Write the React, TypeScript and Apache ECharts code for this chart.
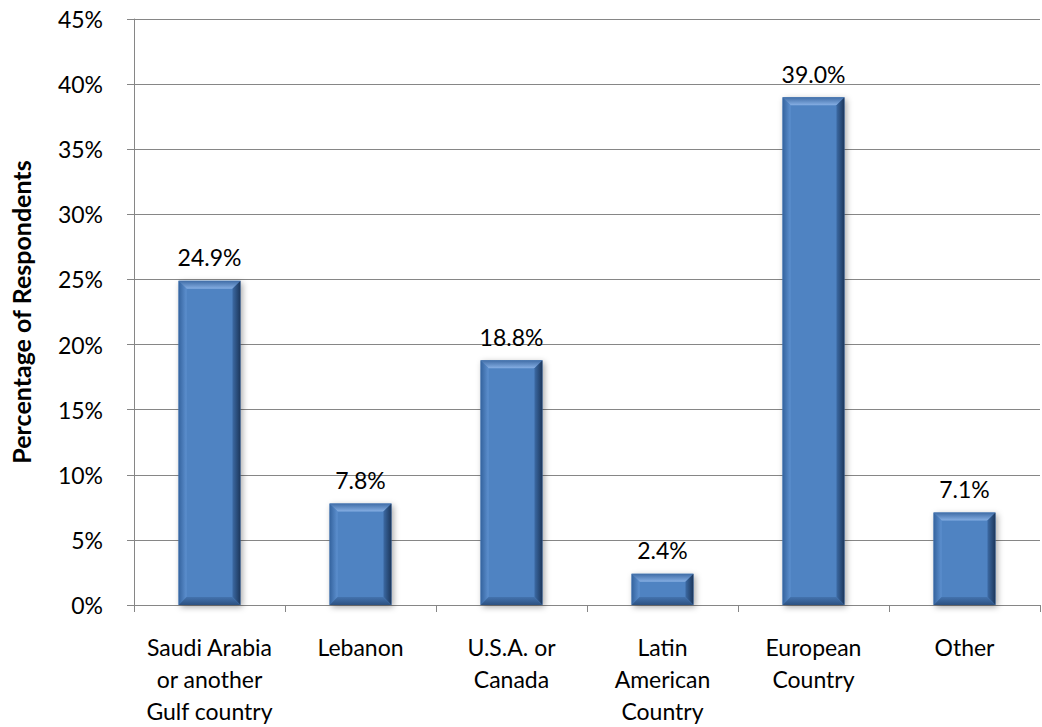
import React, { useEffect, useRef } from "react";
import * as echarts from "echarts";

const categories = [
  "Saudi Arabia\nor another\nGulf country",
  "Lebanon",
  "U.S.A. or\nCanada",
  "Latin\nAmerican\nCountry",
  "European\nCountry",
  "Other",
];
const values = [24.9, 7.8, 18.8, 2.4, 39.0, 7.1];
const yMin = 0;
const yMax = 45;
const yStep = 5;
const yTitle = "Percentage of Respondents";

const FONT = "Lato, 'Open Sans', sans-serif";
const FS = 23;
const GRID_COLOR = "#868686";

function grad(x1: number, y1: number, x2: number, y2: number, c1: string, c2: string) {
  return new echarts.graphic.LinearGradient(x1, y1, x2, y2, [
    { offset: 0, color: c1 },
    { offset: 1, color: c2 },
  ]);
}

export default function App() {
  const ref = useRef<HTMLDivElement>(null);
  useEffect(() => {
    if (!ref.current) return;
    const chart = echarts.init(ref.current, null, { renderer: "svg" });
    const renderItem = (params: any, api: any) => {
      const idx = api.value(0);
      const v = api.value(1);
      const top = api.coord([idx, v]);
      const base = api.coord([idx, 0]);
      const bw = api.size([1, 0])[0] * 0.41;
      const l = top[0] - bw / 2;
      const r = l + bw;
      const t = top[1];
      const b = base[1];
      const h = b - t;
      const e = Math.min(8, h / 2);
      return {
        type: "group",
        children: [
          {
            type: "rect",
            shape: { x: l, y: t, width: bw, height: h },
            style: {
              fill: "#4f83c2",
              shadowBlur: 6,
              shadowColor: "rgba(0,0,0,0.35)",
              shadowOffsetX: 2,
              shadowOffsetY: 2,
            },
          },
          {
            type: "polygon",
            shape: { points: [[l, t], [r, t], [r - e, t + e], [l + e, t + e]] },
            style: { fill: grad(0, 0, 0, 1, "#3f6ca6", "#85aee3") },
          },
          {
            type: "polygon",
            shape: { points: [[l, t], [l + e, t + e], [l + e, b - e], [l, b]] },
            style: { fill: grad(0, 0, 1, 0, "#34639e", "#5d90cf") },
          },
          {
            type: "polygon",
            shape: { points: [[r, t], [r, b], [r - e, b - e], [r - e, t + e]] },
            style: { fill: grad(0, 0, 1, 0, "#3c6aa4", "#1c365a") },
          },
          {
            type: "polygon",
            shape: { points: [[l, b], [r, b], [r - e, b - e], [l + e, b - e]] },
            style: { fill: grad(0, 0, 0, 1, "#4473ae", "#2c5181") },
          },
          {
            type: "text",
            x: top[0],
            y: t - 12,
            style: {
              text: v.toFixed(1) + "%",
              align: "center",
              verticalAlign: "bottom",
              fill: "#000",
              fontSize: FS,
              fontFamily: FONT,
            },
          },
        ],
      };
    };
    chart.setOption({
      animation: false,
      backgroundColor: "#fff",
      grid: { left: 125, right: 2, top: 19, bottom: 115, containLabel: false },
      xAxis: {
        type: "category",
        data: categories,
        axisLine: { lineStyle: { color: GRID_COLOR, width: 1 } },
        axisTick: { show: true, length: 7, lineStyle: { color: GRID_COLOR } },
        axisLabel: {
          interval: 0,
          color: "#000",
          fontSize: FS,
          fontFamily: FONT,
          margin: 26,
          lineHeight: 32,
        },
        splitLine: { show: false },
      },
      yAxis: {
        type: "value",
        min: yMin,
        max: yMax,
        interval: yStep,
        name: yTitle,
        nameLocation: "middle",
        nameRotate: 90,
        nameGap: 101,
        nameTextStyle: { color: "#000", fontSize: 25, fontWeight: "bold", fontFamily: FONT },
        axisLine: { show: true, lineStyle: { color: GRID_COLOR, width: 1 } },
        axisTick: { show: true, length: 7, lineStyle: { color: GRID_COLOR } },
        axisLabel: {
          formatter: "{value}%",
          color: "#000",
          fontSize: FS,
          fontFamily: FONT,
          margin: 31,
        },
        splitLine: { show: true, lineStyle: { color: GRID_COLOR, width: 1 } },
      },
      series: [
        {
          type: "custom",
          renderItem,
          data: values.map((v, i) => [i, v]),
          encode: { x: 0, y: 1 },
          clip: false,
        },
      ],
    });
    return () => chart.dispose();
  }, []);
  return (
    <div
      ref={ref}
      style={{ position: "fixed", left: 0, top: 0, width: 1042, height: 727 }}
    />
  );
}
